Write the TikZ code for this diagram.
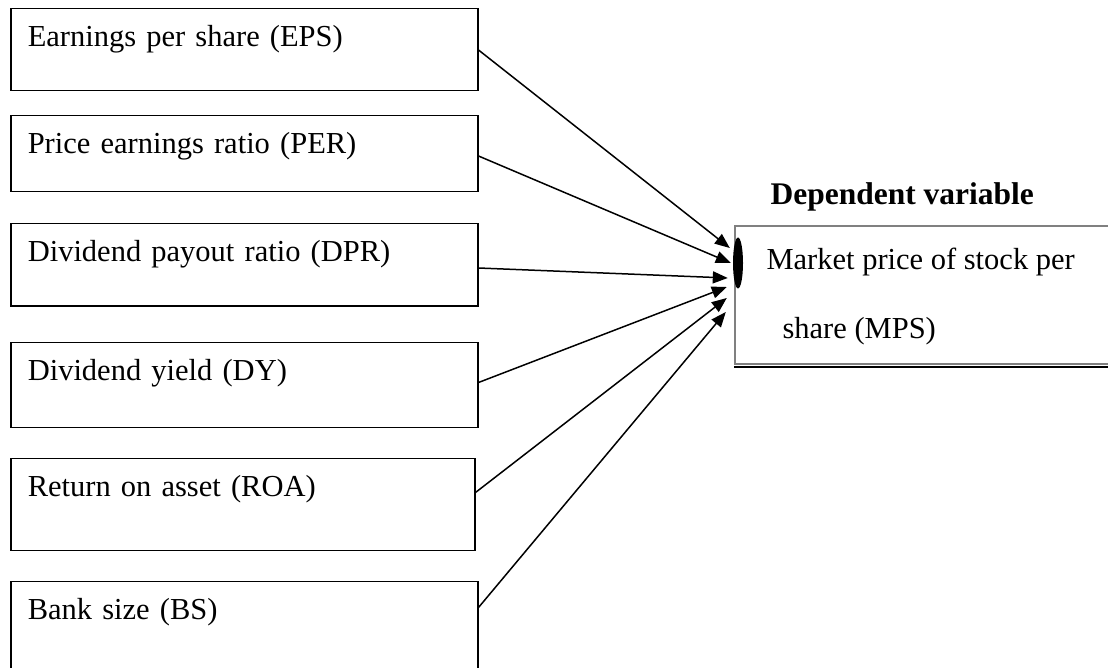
\documentclass[tikz,border=0pt]{standalone}
\usepackage{fontspec}
\setmainfont{Liberation Serif}
\usetikzlibrary{positioning, arrows.meta, calc, shapes.geometric}

\begin{document}
\begin{tikzpicture}[
    x=1pt, y=-1pt,
    font=\fontsize{30.5}{37}\selectfont,
    box/.style={draw, line width=1.5pt, anchor=north west, align=left,
                text width=433pt, inner xsep=17pt, inner ysep=16pt, text height=22pt},
    arr/.style={-{Triangle[length=15pt, width=12pt]}, line width=1.5pt}
]
\path[use as bounding box, clip] (0,0) rectangle (1108,668);
\node[box, text depth=28pt] (eps) at (10,8) {Earnings per share (EPS)};
\node[box, text depth=22pt, below=23.5pt of eps.south west, anchor=north west] (per) {Price earnings ratio (PER)};
\node[box, text depth=28pt, below=30.5pt of per.south west, anchor=north west] (dpr) {Dividend payout ratio (DPR)};
\node[box, text depth=31pt, below=35pt of dpr.south west, anchor=north west] (dy) {Dividend yield (DY)};
\node[box, text depth=38pt, text width=430pt, below=29.5pt of dy.south west, anchor=north west] (roa) {Return on asset (ROA)};
\node[box, text depth=45pt, below=29.5pt of roa.south west, anchor=north west] (bs) {Bank size (BS)};

% dependent variable
\node[draw=gray, line width=2.2pt, anchor=north west, minimum width=400pt,
      minimum height=138pt, inner sep=0] (mps) at (734,225) {};
\draw[line width=1.6pt] ([yshift=-1.8pt]mps.south west) -- ([yshift=-1.8pt]mps.south east);
\node[anchor=base west] (mpsa) at ([xshift=29pt, yshift=-45pt]mps.north west) {Market price of stock per};
\node[anchor=base west] (mpsb) at ([xshift=45pt, yshift=-113pt]mps.north west) {share (MPS)};
\node[anchor=base west, font=\fontsize{31.5}{38}\selectfont\bfseries] (dep)
     at ([xshift=33pt, yshift=20pt]mps.north west) {Dependent variable};
\node[ellipse, fill, minimum width=10pt, minimum height=51pt, inner sep=0] (hub)
     at ($(mps.north west)+(4,38)$) {};

\draw[arr] ([yshift=-42pt]eps.north east) -- ([xshift=-3pt, yshift=15pt]hub.west);
\draw[arr] ([yshift=-41pt]per.north east) -- ([xshift=-2pt]hub.west);
\draw[arr] ([yshift=-45pt]dpr.north east) -- ([xshift=-5pt, yshift=-15pt]hub.west);
\draw[arr] ([yshift=-41pt]dy.north east) -- ([xshift=-6pt, yshift=-24pt]hub.west);
\draw[arr] ([yshift=-35pt]roa.north east) -- ([xshift=-6pt, yshift=-35pt]hub.west);
\draw[arr] ([yshift=-27pt]bs.north east) -- ([xshift=-7pt, yshift=-49pt]hub.west);
\end{tikzpicture}
\end{document}
